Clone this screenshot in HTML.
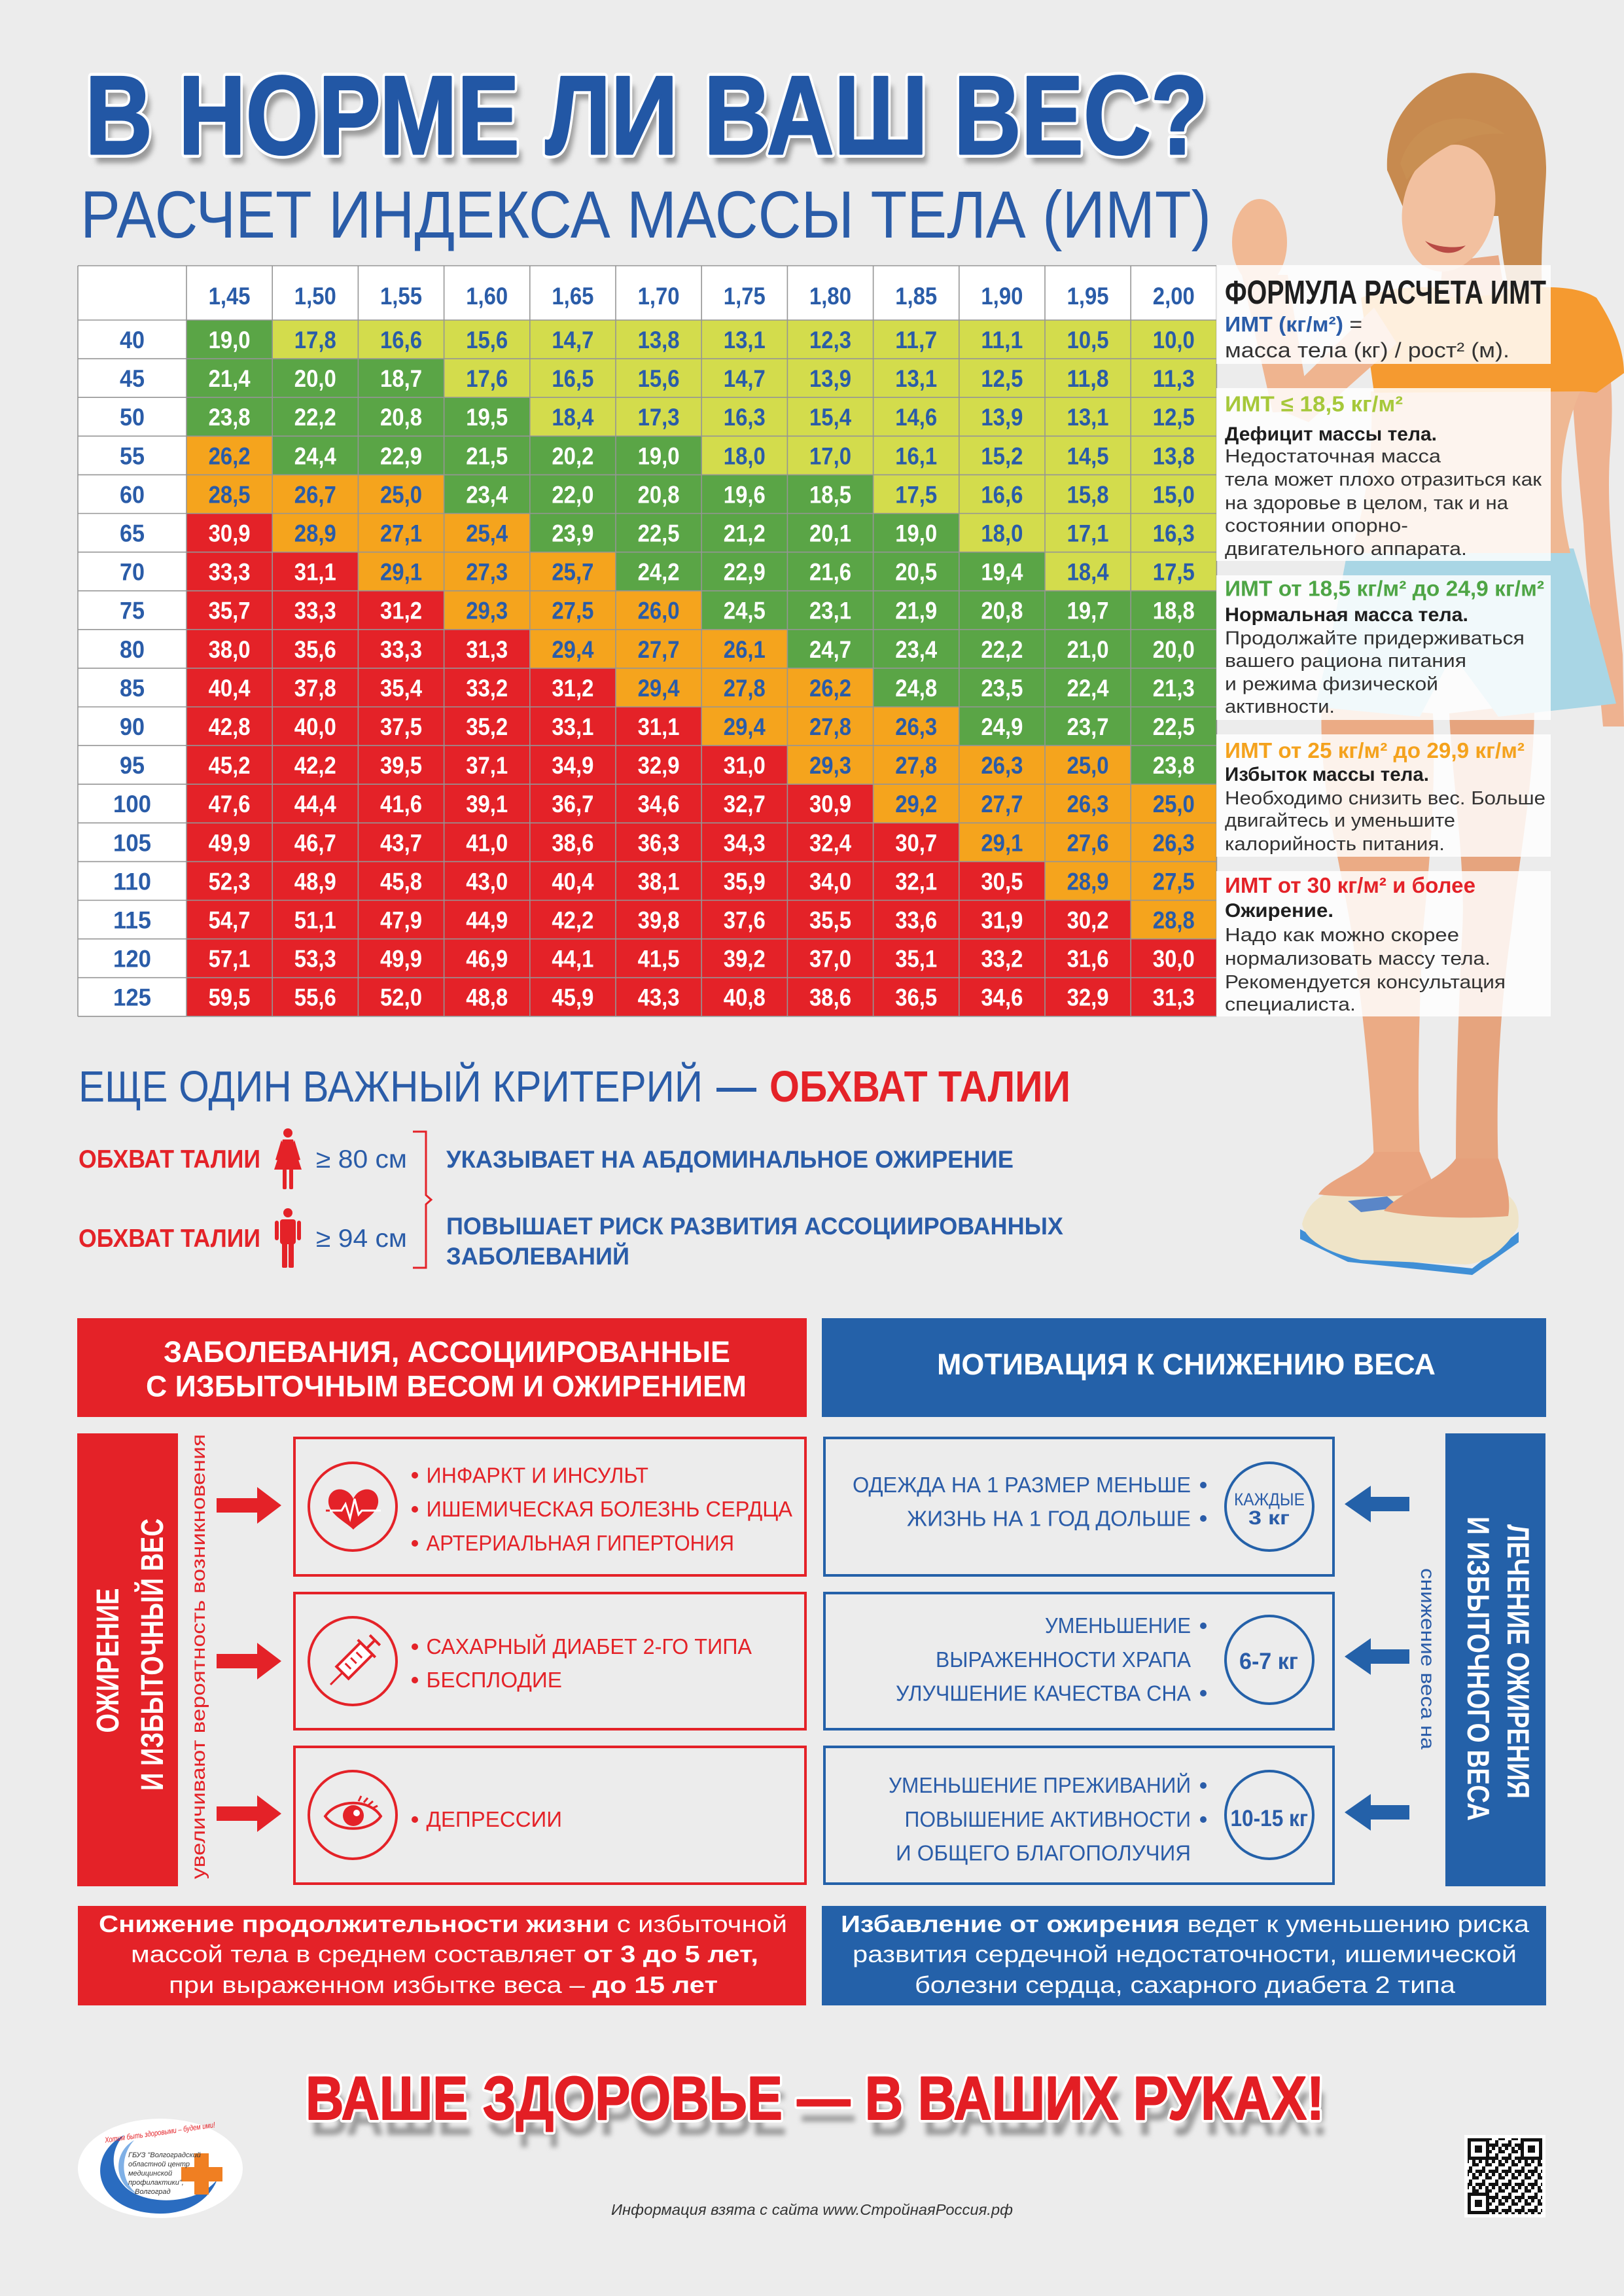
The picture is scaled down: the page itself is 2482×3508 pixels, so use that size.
<!DOCTYPE html>
<html lang="ru">
<head>
<meta charset="utf-8">
<title>В норме ли ваш вес?</title>
<style>
html,body{margin:0;padding:0;background:#ececec;}
svg{display:block;}
text{font-family:"Liberation Sans","DejaVu Sans",sans-serif;}
.G{fill:#5aa546}.Y{fill:#d3dc4c}.O{fill:#f5a41d}.R{fill:#e42228}
.t text{font-weight:bold;font-size:37px;text-anchor:middle;lengthAdjust:spacingAndGlyphs;}
.w{fill:#fff}.b{fill:#2a5ca8}
.pn{font-size:29px;fill:#333;}
.pb{font-size:30px;font-weight:bold;fill:#1e1e1e;}
.ph{font-size:33px;font-weight:bold;}
.rb{font-size:33px;fill:#e42228;}
.bb{font-size:33px;fill:#2a5ca8;}
</style>
</head>
<body>
<svg width="2482" height="3508" viewBox="0 0 2482 3508" xmlns="http://www.w3.org/2000/svg">
<defs>
<filter id="sh" x="-5%" y="-30%" width="110%" height="160%"><feGaussianBlur stdDeviation="4"/></filter>
<rect id="c" width="131.2" height="59.1"/>
<rect id="wc" width="166" height="59.1" fill="#fff"/>
<pattern id="qr" width="20" height="20" patternUnits="userSpaceOnUse">
<rect x="0" y="0" width="5" height="5" fill="#111"/><rect x="10" y="0" width="5" height="10" fill="#111"/><rect x="5" y="10" width="5" height="5" fill="#111"/><rect x="15" y="5" width="5" height="5" fill="#111"/><rect x="0" y="15" width="10" height="5" fill="#111"/><rect x="15" y="15" width="5" height="5" fill="#111"/>
</pattern>
</defs>

<rect width="2482" height="3508" fill="#ececec"/>

<!-- ===== WOMAN (approximate) ===== -->
<g>
<path d="M2415,470 C2460,500 2470,580 2460,700 C2455,800 2470,900 2480,1000 L2482,1110 L2450,1110 C2440,1000 2425,900 2420,800 C2410,700 2400,600 2400,500 Z" fill="#eeb290"/>
<path d="M2120,260 C2115,160 2200,105 2260,112 C2330,118 2370,190 2362,280 C2358,350 2352,420 2360,470 L2320,480 C2300,440 2295,380 2290,330 L2150,330 Z" fill="#c78a4f"/>
<path d="M2020,1075 L2190,1090 C2195,1200 2185,1320 2175,1420 C2170,1520 2165,1650 2170,1770 L2100,1775 C2095,1650 2080,1520 2065,1420 C2045,1300 2015,1200 2020,1075 Z" fill="#ebab85"/>
<path d="M2215,1090 L2345,1075 C2345,1200 2320,1320 2310,1420 C2295,1520 2285,1650 2290,1780 L2225,1780 C2225,1650 2230,1520 2235,1420 C2240,1320 2220,1200 2215,1090 Z" fill="#e6a47e"/>
<path d="M1987,1878 L2060,1918 L2250,1938 L2321,1882 L2321,1898 L2250,1948 L2060,1928 L1987,1893 Z" fill="#3f8fd6"/>
<path d="M1990,1870 C2000,1830 2030,1815 2080,1815 L2260,1815 C2310,1815 2325,1840 2320,1875 C2300,1910 2270,1930 2240,1932 L2080,1925 C2030,1915 1995,1895 1990,1870 Z" fill="#efe4c8"/>
<path d="M2060,1835 L2120,1828 L2140,1845 L2080,1852 Z" fill="#5a86c8"/>
<path d="M2100,1760 L2170,1760 L2195,1820 C2150,1830 2060,1830 2015,1825 C2030,1800 2080,1790 2100,1760 Z" fill="#e9a47f"/>
<path d="M2225,1770 L2290,1770 C2300,1800 2310,1830 2305,1858 C2260,1862 2170,1862 2115,1850 C2140,1820 2200,1805 2225,1770 Z" fill="#e6a07b"/>
<path d="M2060,838 L2405,838 C2430,920 2450,1000 2470,1075 L2290,1095 L2220,1000 L2170,1095 L2010,1080 C2030,1000 2045,920 2060,838 Z" fill="#a9d6e5"/>
<path d="M2095,598 L2415,598 C2380,680 2380,760 2400,845 L2065,845 C2090,760 2100,680 2095,598 Z" fill="#efb893"/>
<path d="M2080,455 C2150,430 2200,440 2250,445 C2330,440 2400,430 2440,455 C2470,500 2482,540 2482,570 L2440,600 L2420,598 L2100,600 Z" fill="#f59a30"/>
<path d="M2100,470 L2135,525 L2000,645 L1945,622 Z" fill="#efb48f"/>
<path d="M1945,630 L2002,628 L1968,420 L1898,420 Z" fill="#efb48f"/>
<ellipse cx="1925" cy="370" rx="42" ry="66" fill="#f1b994"/>
<path d="M2205,400 L2290,390 L2300,450 L2200,455 Z" fill="#e8a985"/>
<ellipse cx="2214" cy="318" rx="70" ry="98" transform="rotate(12 2214 318)" fill="#f2c09f"/>
<path d="M2178,368 C2195,390 2225,392 2240,375 C2225,380 2195,378 2178,368 Z" fill="#b84a45"/>
<path d="M2140,250 C2160,180 2240,160 2300,205 C2265,200 2200,215 2150,275 Z" fill="#c98f52"/>
</g>

<!-- ===== TITLE ===== -->
<g font-weight="bold" font-size="171">
<text x="138" y="249" textLength="1716" lengthAdjust="spacingAndGlyphs" fill="#9a9a9a" filter="url(#sh)">В НОРМЕ ЛИ ВАШ ВЕС?</text>
<text x="130" y="235" textLength="1716" lengthAdjust="spacingAndGlyphs" fill="#fff" stroke="#fff" stroke-width="12" stroke-linejoin="round">В НОРМЕ ЛИ ВАШ ВЕС?</text>
<text x="130" y="235" textLength="1716" lengthAdjust="spacingAndGlyphs" fill="#2257a5" stroke="#2257a5" stroke-width="3" stroke-linejoin="round">В НОРМЕ ЛИ ВАШ ВЕС?</text>
</g>
<text x="123" y="363" font-size="102" textLength="1728" lengthAdjust="spacingAndGlyphs" fill="#2a5ca8">РАСЧЕТ ИНДЕКСА МАССЫ ТЕЛА (ИМТ)</text>

<!-- ===== TABLE ===== -->
<rect x="119" y="406" width="1740" height="83" fill="#fff"/>
<g class="t">
<text x="350.6" y="465" class="b" textLength="64" lengthAdjust="spacingAndGlyphs">1,45</text>
<text x="481.8" y="465" class="b" textLength="64" lengthAdjust="spacingAndGlyphs">1,50</text>
<text x="613" y="465" class="b" textLength="64" lengthAdjust="spacingAndGlyphs">1,55</text>
<text x="744.2" y="465" class="b" textLength="64" lengthAdjust="spacingAndGlyphs">1,60</text>
<text x="875.4" y="465" class="b" textLength="64" lengthAdjust="spacingAndGlyphs">1,65</text>
<text x="1006.6" y="465" class="b" textLength="64" lengthAdjust="spacingAndGlyphs">1,70</text>
<text x="1137.8" y="465" class="b" textLength="64" lengthAdjust="spacingAndGlyphs">1,75</text>
<text x="1269" y="465" class="b" textLength="64" lengthAdjust="spacingAndGlyphs">1,80</text>
<text x="1400.2" y="465" class="b" textLength="64" lengthAdjust="spacingAndGlyphs">1,85</text>
<text x="1531.4" y="465" class="b" textLength="64" lengthAdjust="spacingAndGlyphs">1,90</text>
<text x="1662.6" y="465" class="b" textLength="64" lengthAdjust="spacingAndGlyphs">1,95</text>
<text x="1793.8" y="465" class="b" textLength="64" lengthAdjust="spacingAndGlyphs">2,00</text>

<g transform="translate(0,489)">
<use href="#wc" x="119"/><text x="202" y="43" class="b" textLength="38" lengthAdjust="spacingAndGlyphs">40</text>
<use href="#c" x="285" class="G"/><use href="#c" x="416.2" class="Y"/><use href="#c" x="547.4" class="Y"/><use href="#c" x="678.6" class="Y"/><use href="#c" x="809.8" class="Y"/><use href="#c" x="941" class="Y"/><use href="#c" x="1072.2" class="Y"/><use href="#c" x="1203.4" class="Y"/><use href="#c" x="1334.6" class="Y"/><use href="#c" x="1465.8" class="Y"/><use href="#c" x="1597" class="Y"/><use href="#c" x="1728.2" class="Y"/>
<text x="350.6" y="43" class="w" textLength="64" lengthAdjust="spacingAndGlyphs">19,0</text><text x="481.8" y="43" class="b" textLength="64" lengthAdjust="spacingAndGlyphs">17,8</text><text x="613" y="43" class="b" textLength="64" lengthAdjust="spacingAndGlyphs">16,6</text><text x="744.2" y="43" class="b" textLength="64" lengthAdjust="spacingAndGlyphs">15,6</text><text x="875.4" y="43" class="b" textLength="64" lengthAdjust="spacingAndGlyphs">14,7</text><text x="1006.6" y="43" class="b" textLength="64" lengthAdjust="spacingAndGlyphs">13,8</text><text x="1137.8" y="43" class="b" textLength="64" lengthAdjust="spacingAndGlyphs">13,1</text><text x="1269" y="43" class="b" textLength="64" lengthAdjust="spacingAndGlyphs">12,3</text><text x="1400.2" y="43" class="b" textLength="64" lengthAdjust="spacingAndGlyphs">11,7</text><text x="1531.4" y="43" class="b" textLength="64" lengthAdjust="spacingAndGlyphs">11,1</text><text x="1662.6" y="43" class="b" textLength="64" lengthAdjust="spacingAndGlyphs">10,5</text><text x="1793.8" y="43" class="b" textLength="64" lengthAdjust="spacingAndGlyphs">10,0</text>
</g>

<g transform="translate(0,548.1)">
<use href="#wc" x="119"/><text x="202" y="43" class="b" textLength="38" lengthAdjust="spacingAndGlyphs">45</text>
<use href="#c" x="285" class="G"/><use href="#c" x="416.2" class="G"/><use href="#c" x="547.4" class="G"/><use href="#c" x="678.6" class="Y"/><use href="#c" x="809.8" class="Y"/><use href="#c" x="941" class="Y"/><use href="#c" x="1072.2" class="Y"/><use href="#c" x="1203.4" class="Y"/><use href="#c" x="1334.6" class="Y"/><use href="#c" x="1465.8" class="Y"/><use href="#c" x="1597" class="Y"/><use href="#c" x="1728.2" class="Y"/>
<text x="350.6" y="43" class="w" textLength="64" lengthAdjust="spacingAndGlyphs">21,4</text><text x="481.8" y="43" class="w" textLength="64" lengthAdjust="spacingAndGlyphs">20,0</text><text x="613" y="43" class="w" textLength="64" lengthAdjust="spacingAndGlyphs">18,7</text><text x="744.2" y="43" class="b" textLength="64" lengthAdjust="spacingAndGlyphs">17,6</text><text x="875.4" y="43" class="b" textLength="64" lengthAdjust="spacingAndGlyphs">16,5</text><text x="1006.6" y="43" class="b" textLength="64" lengthAdjust="spacingAndGlyphs">15,6</text><text x="1137.8" y="43" class="b" textLength="64" lengthAdjust="spacingAndGlyphs">14,7</text><text x="1269" y="43" class="b" textLength="64" lengthAdjust="spacingAndGlyphs">13,9</text><text x="1400.2" y="43" class="b" textLength="64" lengthAdjust="spacingAndGlyphs">13,1</text><text x="1531.4" y="43" class="b" textLength="64" lengthAdjust="spacingAndGlyphs">12,5</text><text x="1662.6" y="43" class="b" textLength="64" lengthAdjust="spacingAndGlyphs">11,8</text><text x="1793.8" y="43" class="b" textLength="64" lengthAdjust="spacingAndGlyphs">11,3</text>
</g>

<g transform="translate(0,607.2)">
<use href="#wc" x="119"/><text x="202" y="43" class="b" textLength="38" lengthAdjust="spacingAndGlyphs">50</text>
<use href="#c" x="285" class="G"/><use href="#c" x="416.2" class="G"/><use href="#c" x="547.4" class="G"/><use href="#c" x="678.6" class="G"/><use href="#c" x="809.8" class="Y"/><use href="#c" x="941" class="Y"/><use href="#c" x="1072.2" class="Y"/><use href="#c" x="1203.4" class="Y"/><use href="#c" x="1334.6" class="Y"/><use href="#c" x="1465.8" class="Y"/><use href="#c" x="1597" class="Y"/><use href="#c" x="1728.2" class="Y"/>
<text x="350.6" y="43" class="w" textLength="64" lengthAdjust="spacingAndGlyphs">23,8</text><text x="481.8" y="43" class="w" textLength="64" lengthAdjust="spacingAndGlyphs">22,2</text><text x="613" y="43" class="w" textLength="64" lengthAdjust="spacingAndGlyphs">20,8</text><text x="744.2" y="43" class="w" textLength="64" lengthAdjust="spacingAndGlyphs">19,5</text><text x="875.4" y="43" class="b" textLength="64" lengthAdjust="spacingAndGlyphs">18,4</text><text x="1006.6" y="43" class="b" textLength="64" lengthAdjust="spacingAndGlyphs">17,3</text><text x="1137.8" y="43" class="b" textLength="64" lengthAdjust="spacingAndGlyphs">16,3</text><text x="1269" y="43" class="b" textLength="64" lengthAdjust="spacingAndGlyphs">15,4</text><text x="1400.2" y="43" class="b" textLength="64" lengthAdjust="spacingAndGlyphs">14,6</text><text x="1531.4" y="43" class="b" textLength="64" lengthAdjust="spacingAndGlyphs">13,9</text><text x="1662.6" y="43" class="b" textLength="64" lengthAdjust="spacingAndGlyphs">13,1</text><text x="1793.8" y="43" class="b" textLength="64" lengthAdjust="spacingAndGlyphs">12,5</text>
</g>

<g transform="translate(0,666.3)">
<use href="#wc" x="119"/><text x="202" y="43" class="b" textLength="38" lengthAdjust="spacingAndGlyphs">55</text>
<use href="#c" x="285" class="O"/><use href="#c" x="416.2" class="G"/><use href="#c" x="547.4" class="G"/><use href="#c" x="678.6" class="G"/><use href="#c" x="809.8" class="G"/><use href="#c" x="941" class="G"/><use href="#c" x="1072.2" class="Y"/><use href="#c" x="1203.4" class="Y"/><use href="#c" x="1334.6" class="Y"/><use href="#c" x="1465.8" class="Y"/><use href="#c" x="1597" class="Y"/><use href="#c" x="1728.2" class="Y"/>
<text x="350.6" y="43" class="b" textLength="64" lengthAdjust="spacingAndGlyphs">26,2</text><text x="481.8" y="43" class="w" textLength="64" lengthAdjust="spacingAndGlyphs">24,4</text><text x="613" y="43" class="w" textLength="64" lengthAdjust="spacingAndGlyphs">22,9</text><text x="744.2" y="43" class="w" textLength="64" lengthAdjust="spacingAndGlyphs">21,5</text><text x="875.4" y="43" class="w" textLength="64" lengthAdjust="spacingAndGlyphs">20,2</text><text x="1006.6" y="43" class="w" textLength="64" lengthAdjust="spacingAndGlyphs">19,0</text><text x="1137.8" y="43" class="b" textLength="64" lengthAdjust="spacingAndGlyphs">18,0</text><text x="1269" y="43" class="b" textLength="64" lengthAdjust="spacingAndGlyphs">17,0</text><text x="1400.2" y="43" class="b" textLength="64" lengthAdjust="spacingAndGlyphs">16,1</text><text x="1531.4" y="43" class="b" textLength="64" lengthAdjust="spacingAndGlyphs">15,2</text><text x="1662.6" y="43" class="b" textLength="64" lengthAdjust="spacingAndGlyphs">14,5</text><text x="1793.8" y="43" class="b" textLength="64" lengthAdjust="spacingAndGlyphs">13,8</text>
</g>

<g transform="translate(0,725.4)">
<use href="#wc" x="119"/><text x="202" y="43" class="b" textLength="38" lengthAdjust="spacingAndGlyphs">60</text>
<use href="#c" x="285" class="O"/><use href="#c" x="416.2" class="O"/><use href="#c" x="547.4" class="O"/><use href="#c" x="678.6" class="G"/><use href="#c" x="809.8" class="G"/><use href="#c" x="941" class="G"/><use href="#c" x="1072.2" class="G"/><use href="#c" x="1203.4" class="G"/><use href="#c" x="1334.6" class="Y"/><use href="#c" x="1465.8" class="Y"/><use href="#c" x="1597" class="Y"/><use href="#c" x="1728.2" class="Y"/>
<text x="350.6" y="43" class="b" textLength="64" lengthAdjust="spacingAndGlyphs">28,5</text><text x="481.8" y="43" class="b" textLength="64" lengthAdjust="spacingAndGlyphs">26,7</text><text x="613" y="43" class="b" textLength="64" lengthAdjust="spacingAndGlyphs">25,0</text><text x="744.2" y="43" class="w" textLength="64" lengthAdjust="spacingAndGlyphs">23,4</text><text x="875.4" y="43" class="w" textLength="64" lengthAdjust="spacingAndGlyphs">22,0</text><text x="1006.6" y="43" class="w" textLength="64" lengthAdjust="spacingAndGlyphs">20,8</text><text x="1137.8" y="43" class="w" textLength="64" lengthAdjust="spacingAndGlyphs">19,6</text><text x="1269" y="43" class="w" textLength="64" lengthAdjust="spacingAndGlyphs">18,5</text><text x="1400.2" y="43" class="b" textLength="64" lengthAdjust="spacingAndGlyphs">17,5</text><text x="1531.4" y="43" class="b" textLength="64" lengthAdjust="spacingAndGlyphs">16,6</text><text x="1662.6" y="43" class="b" textLength="64" lengthAdjust="spacingAndGlyphs">15,8</text><text x="1793.8" y="43" class="b" textLength="64" lengthAdjust="spacingAndGlyphs">15,0</text>
</g>

<g transform="translate(0,784.5)">
<use href="#wc" x="119"/><text x="202" y="43" class="b" textLength="38" lengthAdjust="spacingAndGlyphs">65</text>
<use href="#c" x="285" class="R"/><use href="#c" x="416.2" class="O"/><use href="#c" x="547.4" class="O"/><use href="#c" x="678.6" class="O"/><use href="#c" x="809.8" class="G"/><use href="#c" x="941" class="G"/><use href="#c" x="1072.2" class="G"/><use href="#c" x="1203.4" class="G"/><use href="#c" x="1334.6" class="G"/><use href="#c" x="1465.8" class="Y"/><use href="#c" x="1597" class="Y"/><use href="#c" x="1728.2" class="Y"/>
<text x="350.6" y="43" class="w" textLength="64" lengthAdjust="spacingAndGlyphs">30,9</text><text x="481.8" y="43" class="b" textLength="64" lengthAdjust="spacingAndGlyphs">28,9</text><text x="613" y="43" class="b" textLength="64" lengthAdjust="spacingAndGlyphs">27,1</text><text x="744.2" y="43" class="b" textLength="64" lengthAdjust="spacingAndGlyphs">25,4</text><text x="875.4" y="43" class="w" textLength="64" lengthAdjust="spacingAndGlyphs">23,9</text><text x="1006.6" y="43" class="w" textLength="64" lengthAdjust="spacingAndGlyphs">22,5</text><text x="1137.8" y="43" class="w" textLength="64" lengthAdjust="spacingAndGlyphs">21,2</text><text x="1269" y="43" class="w" textLength="64" lengthAdjust="spacingAndGlyphs">20,1</text><text x="1400.2" y="43" class="w" textLength="64" lengthAdjust="spacingAndGlyphs">19,0</text><text x="1531.4" y="43" class="b" textLength="64" lengthAdjust="spacingAndGlyphs">18,0</text><text x="1662.6" y="43" class="b" textLength="64" lengthAdjust="spacingAndGlyphs">17,1</text><text x="1793.8" y="43" class="b" textLength="64" lengthAdjust="spacingAndGlyphs">16,3</text>
</g>

<g transform="translate(0,843.6)">
<use href="#wc" x="119"/><text x="202" y="43" class="b" textLength="38" lengthAdjust="spacingAndGlyphs">70</text>
<use href="#c" x="285" class="R"/><use href="#c" x="416.2" class="R"/><use href="#c" x="547.4" class="O"/><use href="#c" x="678.6" class="O"/><use href="#c" x="809.8" class="O"/><use href="#c" x="941" class="G"/><use href="#c" x="1072.2" class="G"/><use href="#c" x="1203.4" class="G"/><use href="#c" x="1334.6" class="G"/><use href="#c" x="1465.8" class="G"/><use href="#c" x="1597" class="Y"/><use href="#c" x="1728.2" class="Y"/>
<text x="350.6" y="43" class="w" textLength="64" lengthAdjust="spacingAndGlyphs">33,3</text><text x="481.8" y="43" class="w" textLength="64" lengthAdjust="spacingAndGlyphs">31,1</text><text x="613" y="43" class="b" textLength="64" lengthAdjust="spacingAndGlyphs">29,1</text><text x="744.2" y="43" class="b" textLength="64" lengthAdjust="spacingAndGlyphs">27,3</text><text x="875.4" y="43" class="b" textLength="64" lengthAdjust="spacingAndGlyphs">25,7</text><text x="1006.6" y="43" class="w" textLength="64" lengthAdjust="spacingAndGlyphs">24,2</text><text x="1137.8" y="43" class="w" textLength="64" lengthAdjust="spacingAndGlyphs">22,9</text><text x="1269" y="43" class="w" textLength="64" lengthAdjust="spacingAndGlyphs">21,6</text><text x="1400.2" y="43" class="w" textLength="64" lengthAdjust="spacingAndGlyphs">20,5</text><text x="1531.4" y="43" class="w" textLength="64" lengthAdjust="spacingAndGlyphs">19,4</text><text x="1662.6" y="43" class="b" textLength="64" lengthAdjust="spacingAndGlyphs">18,4</text><text x="1793.8" y="43" class="b" textLength="64" lengthAdjust="spacingAndGlyphs">17,5</text>
</g>

<g transform="translate(0,902.7)">
<use href="#wc" x="119"/><text x="202" y="43" class="b" textLength="38" lengthAdjust="spacingAndGlyphs">75</text>
<use href="#c" x="285" class="R"/><use href="#c" x="416.2" class="R"/><use href="#c" x="547.4" class="R"/><use href="#c" x="678.6" class="O"/><use href="#c" x="809.8" class="O"/><use href="#c" x="941" class="O"/><use href="#c" x="1072.2" class="G"/><use href="#c" x="1203.4" class="G"/><use href="#c" x="1334.6" class="G"/><use href="#c" x="1465.8" class="G"/><use href="#c" x="1597" class="G"/><use href="#c" x="1728.2" class="G"/>
<text x="350.6" y="43" class="w" textLength="64" lengthAdjust="spacingAndGlyphs">35,7</text><text x="481.8" y="43" class="w" textLength="64" lengthAdjust="spacingAndGlyphs">33,3</text><text x="613" y="43" class="w" textLength="64" lengthAdjust="spacingAndGlyphs">31,2</text><text x="744.2" y="43" class="b" textLength="64" lengthAdjust="spacingAndGlyphs">29,3</text><text x="875.4" y="43" class="b" textLength="64" lengthAdjust="spacingAndGlyphs">27,5</text><text x="1006.6" y="43" class="b" textLength="64" lengthAdjust="spacingAndGlyphs">26,0</text><text x="1137.8" y="43" class="w" textLength="64" lengthAdjust="spacingAndGlyphs">24,5</text><text x="1269" y="43" class="w" textLength="64" lengthAdjust="spacingAndGlyphs">23,1</text><text x="1400.2" y="43" class="w" textLength="64" lengthAdjust="spacingAndGlyphs">21,9</text><text x="1531.4" y="43" class="w" textLength="64" lengthAdjust="spacingAndGlyphs">20,8</text><text x="1662.6" y="43" class="w" textLength="64" lengthAdjust="spacingAndGlyphs">19,7</text><text x="1793.8" y="43" class="w" textLength="64" lengthAdjust="spacingAndGlyphs">18,8</text>
</g>

<g transform="translate(0,961.8)">
<use href="#wc" x="119"/><text x="202" y="43" class="b" textLength="38" lengthAdjust="spacingAndGlyphs">80</text>
<use href="#c" x="285" class="R"/><use href="#c" x="416.2" class="R"/><use href="#c" x="547.4" class="R"/><use href="#c" x="678.6" class="R"/><use href="#c" x="809.8" class="O"/><use href="#c" x="941" class="O"/><use href="#c" x="1072.2" class="O"/><use href="#c" x="1203.4" class="G"/><use href="#c" x="1334.6" class="G"/><use href="#c" x="1465.8" class="G"/><use href="#c" x="1597" class="G"/><use href="#c" x="1728.2" class="G"/>
<text x="350.6" y="43" class="w" textLength="64" lengthAdjust="spacingAndGlyphs">38,0</text><text x="481.8" y="43" class="w" textLength="64" lengthAdjust="spacingAndGlyphs">35,6</text><text x="613" y="43" class="w" textLength="64" lengthAdjust="spacingAndGlyphs">33,3</text><text x="744.2" y="43" class="w" textLength="64" lengthAdjust="spacingAndGlyphs">31,3</text><text x="875.4" y="43" class="b" textLength="64" lengthAdjust="spacingAndGlyphs">29,4</text><text x="1006.6" y="43" class="b" textLength="64" lengthAdjust="spacingAndGlyphs">27,7</text><text x="1137.8" y="43" class="b" textLength="64" lengthAdjust="spacingAndGlyphs">26,1</text><text x="1269" y="43" class="w" textLength="64" lengthAdjust="spacingAndGlyphs">24,7</text><text x="1400.2" y="43" class="w" textLength="64" lengthAdjust="spacingAndGlyphs">23,4</text><text x="1531.4" y="43" class="w" textLength="64" lengthAdjust="spacingAndGlyphs">22,2</text><text x="1662.6" y="43" class="w" textLength="64" lengthAdjust="spacingAndGlyphs">21,0</text><text x="1793.8" y="43" class="w" textLength="64" lengthAdjust="spacingAndGlyphs">20,0</text>
</g>

<g transform="translate(0,1020.9)">
<use href="#wc" x="119"/><text x="202" y="43" class="b" textLength="38" lengthAdjust="spacingAndGlyphs">85</text>
<use href="#c" x="285" class="R"/><use href="#c" x="416.2" class="R"/><use href="#c" x="547.4" class="R"/><use href="#c" x="678.6" class="R"/><use href="#c" x="809.8" class="R"/><use href="#c" x="941" class="O"/><use href="#c" x="1072.2" class="O"/><use href="#c" x="1203.4" class="O"/><use href="#c" x="1334.6" class="G"/><use href="#c" x="1465.8" class="G"/><use href="#c" x="1597" class="G"/><use href="#c" x="1728.2" class="G"/>
<text x="350.6" y="43" class="w" textLength="64" lengthAdjust="spacingAndGlyphs">40,4</text><text x="481.8" y="43" class="w" textLength="64" lengthAdjust="spacingAndGlyphs">37,8</text><text x="613" y="43" class="w" textLength="64" lengthAdjust="spacingAndGlyphs">35,4</text><text x="744.2" y="43" class="w" textLength="64" lengthAdjust="spacingAndGlyphs">33,2</text><text x="875.4" y="43" class="w" textLength="64" lengthAdjust="spacingAndGlyphs">31,2</text><text x="1006.6" y="43" class="b" textLength="64" lengthAdjust="spacingAndGlyphs">29,4</text><text x="1137.8" y="43" class="b" textLength="64" lengthAdjust="spacingAndGlyphs">27,8</text><text x="1269" y="43" class="b" textLength="64" lengthAdjust="spacingAndGlyphs">26,2</text><text x="1400.2" y="43" class="w" textLength="64" lengthAdjust="spacingAndGlyphs">24,8</text><text x="1531.4" y="43" class="w" textLength="64" lengthAdjust="spacingAndGlyphs">23,5</text><text x="1662.6" y="43" class="w" textLength="64" lengthAdjust="spacingAndGlyphs">22,4</text><text x="1793.8" y="43" class="w" textLength="64" lengthAdjust="spacingAndGlyphs">21,3</text>
</g>

<g transform="translate(0,1080)">
<use href="#wc" x="119"/><text x="202" y="43" class="b" textLength="38" lengthAdjust="spacingAndGlyphs">90</text>
<use href="#c" x="285" class="R"/><use href="#c" x="416.2" class="R"/><use href="#c" x="547.4" class="R"/><use href="#c" x="678.6" class="R"/><use href="#c" x="809.8" class="R"/><use href="#c" x="941" class="R"/><use href="#c" x="1072.2" class="O"/><use href="#c" x="1203.4" class="O"/><use href="#c" x="1334.6" class="O"/><use href="#c" x="1465.8" class="G"/><use href="#c" x="1597" class="G"/><use href="#c" x="1728.2" class="G"/>
<text x="350.6" y="43" class="w" textLength="64" lengthAdjust="spacingAndGlyphs">42,8</text><text x="481.8" y="43" class="w" textLength="64" lengthAdjust="spacingAndGlyphs">40,0</text><text x="613" y="43" class="w" textLength="64" lengthAdjust="spacingAndGlyphs">37,5</text><text x="744.2" y="43" class="w" textLength="64" lengthAdjust="spacingAndGlyphs">35,2</text><text x="875.4" y="43" class="w" textLength="64" lengthAdjust="spacingAndGlyphs">33,1</text><text x="1006.6" y="43" class="w" textLength="64" lengthAdjust="spacingAndGlyphs">31,1</text><text x="1137.8" y="43" class="b" textLength="64" lengthAdjust="spacingAndGlyphs">29,4</text><text x="1269" y="43" class="b" textLength="64" lengthAdjust="spacingAndGlyphs">27,8</text><text x="1400.2" y="43" class="b" textLength="64" lengthAdjust="spacingAndGlyphs">26,3</text><text x="1531.4" y="43" class="w" textLength="64" lengthAdjust="spacingAndGlyphs">24,9</text><text x="1662.6" y="43" class="w" textLength="64" lengthAdjust="spacingAndGlyphs">23,7</text><text x="1793.8" y="43" class="w" textLength="64" lengthAdjust="spacingAndGlyphs">22,5</text>
</g>

<g transform="translate(0,1139.1)">
<use href="#wc" x="119"/><text x="202" y="43" class="b" textLength="38" lengthAdjust="spacingAndGlyphs">95</text>
<use href="#c" x="285" class="R"/><use href="#c" x="416.2" class="R"/><use href="#c" x="547.4" class="R"/><use href="#c" x="678.6" class="R"/><use href="#c" x="809.8" class="R"/><use href="#c" x="941" class="R"/><use href="#c" x="1072.2" class="R"/><use href="#c" x="1203.4" class="O"/><use href="#c" x="1334.6" class="O"/><use href="#c" x="1465.8" class="O"/><use href="#c" x="1597" class="O"/><use href="#c" x="1728.2" class="G"/>
<text x="350.6" y="43" class="w" textLength="64" lengthAdjust="spacingAndGlyphs">45,2</text><text x="481.8" y="43" class="w" textLength="64" lengthAdjust="spacingAndGlyphs">42,2</text><text x="613" y="43" class="w" textLength="64" lengthAdjust="spacingAndGlyphs">39,5</text><text x="744.2" y="43" class="w" textLength="64" lengthAdjust="spacingAndGlyphs">37,1</text><text x="875.4" y="43" class="w" textLength="64" lengthAdjust="spacingAndGlyphs">34,9</text><text x="1006.6" y="43" class="w" textLength="64" lengthAdjust="spacingAndGlyphs">32,9</text><text x="1137.8" y="43" class="w" textLength="64" lengthAdjust="spacingAndGlyphs">31,0</text><text x="1269" y="43" class="b" textLength="64" lengthAdjust="spacingAndGlyphs">29,3</text><text x="1400.2" y="43" class="b" textLength="64" lengthAdjust="spacingAndGlyphs">27,8</text><text x="1531.4" y="43" class="b" textLength="64" lengthAdjust="spacingAndGlyphs">26,3</text><text x="1662.6" y="43" class="b" textLength="64" lengthAdjust="spacingAndGlyphs">25,0</text><text x="1793.8" y="43" class="w" textLength="64" lengthAdjust="spacingAndGlyphs">23,8</text>
</g>

<g transform="translate(0,1198.2)">
<use href="#wc" x="119"/><text x="202" y="43" class="b" textLength="58" lengthAdjust="spacingAndGlyphs">100</text>
<use href="#c" x="285" class="R"/><use href="#c" x="416.2" class="R"/><use href="#c" x="547.4" class="R"/><use href="#c" x="678.6" class="R"/><use href="#c" x="809.8" class="R"/><use href="#c" x="941" class="R"/><use href="#c" x="1072.2" class="R"/><use href="#c" x="1203.4" class="R"/><use href="#c" x="1334.6" class="O"/><use href="#c" x="1465.8" class="O"/><use href="#c" x="1597" class="O"/><use href="#c" x="1728.2" class="O"/>
<text x="350.6" y="43" class="w" textLength="64" lengthAdjust="spacingAndGlyphs">47,6</text><text x="481.8" y="43" class="w" textLength="64" lengthAdjust="spacingAndGlyphs">44,4</text><text x="613" y="43" class="w" textLength="64" lengthAdjust="spacingAndGlyphs">41,6</text><text x="744.2" y="43" class="w" textLength="64" lengthAdjust="spacingAndGlyphs">39,1</text><text x="875.4" y="43" class="w" textLength="64" lengthAdjust="spacingAndGlyphs">36,7</text><text x="1006.6" y="43" class="w" textLength="64" lengthAdjust="spacingAndGlyphs">34,6</text><text x="1137.8" y="43" class="w" textLength="64" lengthAdjust="spacingAndGlyphs">32,7</text><text x="1269" y="43" class="w" textLength="64" lengthAdjust="spacingAndGlyphs">30,9</text><text x="1400.2" y="43" class="b" textLength="64" lengthAdjust="spacingAndGlyphs">29,2</text><text x="1531.4" y="43" class="b" textLength="64" lengthAdjust="spacingAndGlyphs">27,7</text><text x="1662.6" y="43" class="b" textLength="64" lengthAdjust="spacingAndGlyphs">26,3</text><text x="1793.8" y="43" class="b" textLength="64" lengthAdjust="spacingAndGlyphs">25,0</text>
</g>

<g transform="translate(0,1257.3)">
<use href="#wc" x="119"/><text x="202" y="43" class="b" textLength="58" lengthAdjust="spacingAndGlyphs">105</text>
<use href="#c" x="285" class="R"/><use href="#c" x="416.2" class="R"/><use href="#c" x="547.4" class="R"/><use href="#c" x="678.6" class="R"/><use href="#c" x="809.8" class="R"/><use href="#c" x="941" class="R"/><use href="#c" x="1072.2" class="R"/><use href="#c" x="1203.4" class="R"/><use href="#c" x="1334.6" class="R"/><use href="#c" x="1465.8" class="O"/><use href="#c" x="1597" class="O"/><use href="#c" x="1728.2" class="O"/>
<text x="350.6" y="43" class="w" textLength="64" lengthAdjust="spacingAndGlyphs">49,9</text><text x="481.8" y="43" class="w" textLength="64" lengthAdjust="spacingAndGlyphs">46,7</text><text x="613" y="43" class="w" textLength="64" lengthAdjust="spacingAndGlyphs">43,7</text><text x="744.2" y="43" class="w" textLength="64" lengthAdjust="spacingAndGlyphs">41,0</text><text x="875.4" y="43" class="w" textLength="64" lengthAdjust="spacingAndGlyphs">38,6</text><text x="1006.6" y="43" class="w" textLength="64" lengthAdjust="spacingAndGlyphs">36,3</text><text x="1137.8" y="43" class="w" textLength="64" lengthAdjust="spacingAndGlyphs">34,3</text><text x="1269" y="43" class="w" textLength="64" lengthAdjust="spacingAndGlyphs">32,4</text><text x="1400.2" y="43" class="w" textLength="64" lengthAdjust="spacingAndGlyphs">30,7</text><text x="1531.4" y="43" class="b" textLength="64" lengthAdjust="spacingAndGlyphs">29,1</text><text x="1662.6" y="43" class="b" textLength="64" lengthAdjust="spacingAndGlyphs">27,6</text><text x="1793.8" y="43" class="b" textLength="64" lengthAdjust="spacingAndGlyphs">26,3</text>
</g>

<g transform="translate(0,1316.4)">
<use href="#wc" x="119"/><text x="202" y="43" class="b" textLength="58" lengthAdjust="spacingAndGlyphs">110</text>
<use href="#c" x="285" class="R"/><use href="#c" x="416.2" class="R"/><use href="#c" x="547.4" class="R"/><use href="#c" x="678.6" class="R"/><use href="#c" x="809.8" class="R"/><use href="#c" x="941" class="R"/><use href="#c" x="1072.2" class="R"/><use href="#c" x="1203.4" class="R"/><use href="#c" x="1334.6" class="R"/><use href="#c" x="1465.8" class="R"/><use href="#c" x="1597" class="O"/><use href="#c" x="1728.2" class="O"/>
<text x="350.6" y="43" class="w" textLength="64" lengthAdjust="spacingAndGlyphs">52,3</text><text x="481.8" y="43" class="w" textLength="64" lengthAdjust="spacingAndGlyphs">48,9</text><text x="613" y="43" class="w" textLength="64" lengthAdjust="spacingAndGlyphs">45,8</text><text x="744.2" y="43" class="w" textLength="64" lengthAdjust="spacingAndGlyphs">43,0</text><text x="875.4" y="43" class="w" textLength="64" lengthAdjust="spacingAndGlyphs">40,4</text><text x="1006.6" y="43" class="w" textLength="64" lengthAdjust="spacingAndGlyphs">38,1</text><text x="1137.8" y="43" class="w" textLength="64" lengthAdjust="spacingAndGlyphs">35,9</text><text x="1269" y="43" class="w" textLength="64" lengthAdjust="spacingAndGlyphs">34,0</text><text x="1400.2" y="43" class="w" textLength="64" lengthAdjust="spacingAndGlyphs">32,1</text><text x="1531.4" y="43" class="w" textLength="64" lengthAdjust="spacingAndGlyphs">30,5</text><text x="1662.6" y="43" class="b" textLength="64" lengthAdjust="spacingAndGlyphs">28,9</text><text x="1793.8" y="43" class="b" textLength="64" lengthAdjust="spacingAndGlyphs">27,5</text>
</g>

<g transform="translate(0,1375.5)">
<use href="#wc" x="119"/><text x="202" y="43" class="b" textLength="58" lengthAdjust="spacingAndGlyphs">115</text>
<use href="#c" x="285" class="R"/><use href="#c" x="416.2" class="R"/><use href="#c" x="547.4" class="R"/><use href="#c" x="678.6" class="R"/><use href="#c" x="809.8" class="R"/><use href="#c" x="941" class="R"/><use href="#c" x="1072.2" class="R"/><use href="#c" x="1203.4" class="R"/><use href="#c" x="1334.6" class="R"/><use href="#c" x="1465.8" class="R"/><use href="#c" x="1597" class="R"/><use href="#c" x="1728.2" class="O"/>
<text x="350.6" y="43" class="w" textLength="64" lengthAdjust="spacingAndGlyphs">54,7</text><text x="481.8" y="43" class="w" textLength="64" lengthAdjust="spacingAndGlyphs">51,1</text><text x="613" y="43" class="w" textLength="64" lengthAdjust="spacingAndGlyphs">47,9</text><text x="744.2" y="43" class="w" textLength="64" lengthAdjust="spacingAndGlyphs">44,9</text><text x="875.4" y="43" class="w" textLength="64" lengthAdjust="spacingAndGlyphs">42,2</text><text x="1006.6" y="43" class="w" textLength="64" lengthAdjust="spacingAndGlyphs">39,8</text><text x="1137.8" y="43" class="w" textLength="64" lengthAdjust="spacingAndGlyphs">37,6</text><text x="1269" y="43" class="w" textLength="64" lengthAdjust="spacingAndGlyphs">35,5</text><text x="1400.2" y="43" class="w" textLength="64" lengthAdjust="spacingAndGlyphs">33,6</text><text x="1531.4" y="43" class="w" textLength="64" lengthAdjust="spacingAndGlyphs">31,9</text><text x="1662.6" y="43" class="w" textLength="64" lengthAdjust="spacingAndGlyphs">30,2</text><text x="1793.8" y="43" class="b" textLength="64" lengthAdjust="spacingAndGlyphs">28,8</text>
</g>

<g transform="translate(0,1434.6)">
<use href="#wc" x="119"/><text x="202" y="43" class="b" textLength="58" lengthAdjust="spacingAndGlyphs">120</text>
<use href="#c" x="285" class="R"/><use href="#c" x="416.2" class="R"/><use href="#c" x="547.4" class="R"/><use href="#c" x="678.6" class="R"/><use href="#c" x="809.8" class="R"/><use href="#c" x="941" class="R"/><use href="#c" x="1072.2" class="R"/><use href="#c" x="1203.4" class="R"/><use href="#c" x="1334.6" class="R"/><use href="#c" x="1465.8" class="R"/><use href="#c" x="1597" class="R"/><use href="#c" x="1728.2" class="R"/>
<text x="350.6" y="43" class="w" textLength="64" lengthAdjust="spacingAndGlyphs">57,1</text><text x="481.8" y="43" class="w" textLength="64" lengthAdjust="spacingAndGlyphs">53,3</text><text x="613" y="43" class="w" textLength="64" lengthAdjust="spacingAndGlyphs">49,9</text><text x="744.2" y="43" class="w" textLength="64" lengthAdjust="spacingAndGlyphs">46,9</text><text x="875.4" y="43" class="w" textLength="64" lengthAdjust="spacingAndGlyphs">44,1</text><text x="1006.6" y="43" class="w" textLength="64" lengthAdjust="spacingAndGlyphs">41,5</text><text x="1137.8" y="43" class="w" textLength="64" lengthAdjust="spacingAndGlyphs">39,2</text><text x="1269" y="43" class="w" textLength="64" lengthAdjust="spacingAndGlyphs">37,0</text><text x="1400.2" y="43" class="w" textLength="64" lengthAdjust="spacingAndGlyphs">35,1</text><text x="1531.4" y="43" class="w" textLength="64" lengthAdjust="spacingAndGlyphs">33,2</text><text x="1662.6" y="43" class="w" textLength="64" lengthAdjust="spacingAndGlyphs">31,6</text><text x="1793.8" y="43" class="w" textLength="64" lengthAdjust="spacingAndGlyphs">30,0</text>
</g>

<g transform="translate(0,1493.7)">
<use href="#wc" x="119"/><text x="202" y="43" class="b" textLength="58" lengthAdjust="spacingAndGlyphs">125</text>
<use href="#c" x="285" class="R"/><use href="#c" x="416.2" class="R"/><use href="#c" x="547.4" class="R"/><use href="#c" x="678.6" class="R"/><use href="#c" x="809.8" class="R"/><use href="#c" x="941" class="R"/><use href="#c" x="1072.2" class="R"/><use href="#c" x="1203.4" class="R"/><use href="#c" x="1334.6" class="R"/><use href="#c" x="1465.8" class="R"/><use href="#c" x="1597" class="R"/><use href="#c" x="1728.2" class="R"/>
<text x="350.6" y="43" class="w" textLength="64" lengthAdjust="spacingAndGlyphs">59,5</text><text x="481.8" y="43" class="w" textLength="64" lengthAdjust="spacingAndGlyphs">55,6</text><text x="613" y="43" class="w" textLength="64" lengthAdjust="spacingAndGlyphs">52,0</text><text x="744.2" y="43" class="w" textLength="64" lengthAdjust="spacingAndGlyphs">48,8</text><text x="875.4" y="43" class="w" textLength="64" lengthAdjust="spacingAndGlyphs">45,9</text><text x="1006.6" y="43" class="w" textLength="64" lengthAdjust="spacingAndGlyphs">43,3</text><text x="1137.8" y="43" class="w" textLength="64" lengthAdjust="spacingAndGlyphs">40,8</text><text x="1269" y="43" class="w" textLength="64" lengthAdjust="spacingAndGlyphs">38,6</text><text x="1400.2" y="43" class="w" textLength="64" lengthAdjust="spacingAndGlyphs">36,5</text><text x="1531.4" y="43" class="w" textLength="64" lengthAdjust="spacingAndGlyphs">34,6</text><text x="1662.6" y="43" class="w" textLength="64" lengthAdjust="spacingAndGlyphs">32,9</text><text x="1793.8" y="43" class="w" textLength="64" lengthAdjust="spacingAndGlyphs">31,3</text>
</g>
</g>

<!-- grid -->
<path fill="none" stroke="#959595" stroke-width="1.6" d="M119 406V1553M285 406V1553M416.2 406V1553M547.4 406V1553M678.6 406V1553M809.8 406V1553M941 406V1553M1072.2 406V1553M1203.4 406V1553M1334.6 406V1553M1465.8 406V1553M1597 406V1553M1728.2 406V1553M1859.4 406V1553
M119 406H1859.4M119 489H1859.4M119 548.1H1859.4M119 607.2H1859.4M119 666.3H1859.4M119 725.4H1859.4M119 784.5H1859.4M119 843.6H1859.4M119 902.7H1859.4M119 961.8H1859.4M119 1020.9H1859.4M119 1080H1859.4M119 1139.1H1859.4M119 1198.2H1859.4M119 1257.3H1859.4M119 1316.4H1859.4M119 1375.5H1859.4M119 1434.6H1859.4M119 1493.7H1859.4M119 1552.8H1859.4"/>

<!-- ===== RIGHT PANEL ===== -->
<g fill="#fff" fill-opacity="0.84">
<rect x="1859" y="405" width="511" height="151"/>
<rect x="1859" y="593" width="511" height="264"/>
<rect x="1859" y="879" width="511" height="221"/>
<rect x="1859" y="1122" width="511" height="187"/>
<rect x="1859" y="1331" width="511" height="222"/>
</g>
<text x="1872" y="464" font-size="51" font-weight="bold" fill="#1e1e1e" textLength="491" lengthAdjust="spacingAndGlyphs">ФОРМУЛА РАСЧЕТА ИМТ</text>
<text x="1872" y="506.5" font-size="32" textLength="210" lengthAdjust="spacingAndGlyphs"><tspan font-weight="bold" fill="#2a5ca8">ИМТ (кг/м²)</tspan><tspan fill="#333"> =</tspan></text>
<text x="1872" y="546" font-size="32" fill="#333" textLength="435" lengthAdjust="spacingAndGlyphs">масса тела (кг) / рост² (м).</text>

<text x="1872" y="628.5" class="ph" fill="#a6c83a" textLength="272" lengthAdjust="spacingAndGlyphs">ИМТ ≤ 18,5 кг/м²</text>
<text x="1872" y="673" class="pb" textLength="324" lengthAdjust="spacingAndGlyphs">Дефицит массы тела.</text>
<text x="1872" y="706.5" class="pn" textLength="330" lengthAdjust="spacingAndGlyphs">Недостаточная масса</text>
<text x="1872" y="742" class="pn" textLength="484" lengthAdjust="spacingAndGlyphs">тела может плохо отразиться как</text>
<text x="1872" y="778" class="pn" textLength="433" lengthAdjust="spacingAndGlyphs">на здоровье в целом, так и на</text>
<text x="1872" y="812.5" class="pn" textLength="280" lengthAdjust="spacingAndGlyphs">состоянии опорно-</text>
<text x="1872" y="848" class="pn" textLength="370" lengthAdjust="spacingAndGlyphs">двигательного аппарата.</text>

<text x="1872" y="910.5" class="ph" fill="#4ea545" textLength="488" lengthAdjust="spacingAndGlyphs">ИМТ от 18,5 кг/м² до 24,9 кг/м²</text>
<text x="1872" y="949" class="pb" textLength="372" lengthAdjust="spacingAndGlyphs">Нормальная масса тела.</text>
<text x="1872" y="984.5" class="pn" textLength="458" lengthAdjust="spacingAndGlyphs">Продолжайте придерживаться</text>
<text x="1872" y="1019" class="pn" textLength="369" lengthAdjust="spacingAndGlyphs">вашего рациона питания</text>
<text x="1872" y="1054.5" class="pn" textLength="326" lengthAdjust="spacingAndGlyphs">и режима физической</text>
<text x="1872" y="1089" class="pn" textLength="168" lengthAdjust="spacingAndGlyphs">активности.</text>

<text x="1872" y="1158" class="ph" fill="#f4a21d" textLength="458" lengthAdjust="spacingAndGlyphs">ИМТ от 25 кг/м² до 29,9 кг/м²</text>
<text x="1872" y="1193" class="pb" textLength="312" lengthAdjust="spacingAndGlyphs">Избыток массы тела.</text>
<text x="1872" y="1229" class="pn" textLength="490" lengthAdjust="spacingAndGlyphs">Необходимо снизить вес. Больше</text>
<text x="1872" y="1263" class="pn" textLength="352" lengthAdjust="spacingAndGlyphs">двигайтесь и уменьшите</text>
<text x="1872" y="1299" class="pn" textLength="336" lengthAdjust="spacingAndGlyphs">калорийность питания.</text>

<text x="1872" y="1364" class="ph" fill="#e42228" textLength="383" lengthAdjust="spacingAndGlyphs">ИМТ от 30 кг/м² и более</text>
<text x="1872" y="1401" class="pb" textLength="166" lengthAdjust="spacingAndGlyphs">Ожирение.</text>
<text x="1872" y="1438" class="pn" textLength="358" lengthAdjust="spacingAndGlyphs">Надо как можно скорее</text>
<text x="1872" y="1474" class="pn" textLength="406" lengthAdjust="spacingAndGlyphs">нормализовать массу тела.</text>
<text x="1872" y="1510" class="pn" textLength="429" lengthAdjust="spacingAndGlyphs">Рекомендуется консультация</text>
<text x="1872" y="1544" class="pn" textLength="200" lengthAdjust="spacingAndGlyphs">специалиста.</text>

<!-- ===== WAIST ===== -->
<text x="120" y="1683" font-size="67" fill="#2a5ca8" textLength="954" lengthAdjust="spacingAndGlyphs">ЕЩЕ ОДИН ВАЖНЫЙ КРИТЕРИЙ</text>
<rect x="1095" y="1662" width="61" height="6" fill="#2a5ca8"/>
<text x="1176" y="1683" font-size="67" font-weight="bold" fill="#e42228" textLength="460" lengthAdjust="spacingAndGlyphs">ОБХВАТ ТАЛИИ</text>

<text x="120" y="1784" font-size="39" font-weight="bold" fill="#e42228" textLength="278" lengthAdjust="spacingAndGlyphs">ОБХВАТ ТАЛИИ</text>
<text x="120" y="1905" font-size="39" font-weight="bold" fill="#e42228" textLength="278" lengthAdjust="spacingAndGlyphs">ОБХВАТ ТАЛИИ</text>
<g fill="#e42228">
<circle cx="440" cy="1731" r="7"/>
<path d="M432,1741 L448,1741 L452,1760 L461,1787 L419,1787 L428,1760 Z"/>
<path d="M430,1742 L421,1772 L425,1773 L433,1750 Z M450,1742 L459,1772 L455,1773 L447,1750 Z"/>
<rect x="432" y="1786" width="6" height="31" rx="2"/><rect x="442" y="1786" width="6" height="31" rx="2"/>
<circle cx="440" cy="1853" r="7"/>
<rect x="428" y="1863" width="24" height="38" rx="4"/>
<rect x="420" y="1865" width="6" height="30" rx="3"/><rect x="454" y="1865" width="6" height="30" rx="3"/>
<rect x="431" y="1896" width="8" height="41" rx="2"/><rect x="441" y="1896" width="8" height="41" rx="2"/>
</g>
<text x="483" y="1784" font-size="39" fill="#2a5ca8" textLength="139" lengthAdjust="spacingAndGlyphs">≥ 80 см</text>
<text x="483" y="1905" font-size="39" fill="#2a5ca8" textLength="139" lengthAdjust="spacingAndGlyphs">≥ 94 см</text>
<path d="M631,1729 L651,1729 L651,1826 L659,1833 L651,1840 L651,1937 L631,1937" fill="none" stroke="#e42228" stroke-width="3"/>
<text x="682" y="1784" font-size="37" font-weight="bold" fill="#2a5ca8" textLength="867" lengthAdjust="spacingAndGlyphs">УКАЗЫВАЕТ НА АБДОМИНАЛЬНОЕ ОЖИРЕНИЕ</text>
<text x="682" y="1886" font-size="37" font-weight="bold" fill="#2a5ca8" textLength="943" lengthAdjust="spacingAndGlyphs">ПОВЫШАЕТ РИСК РАЗВИТИЯ АССОЦИИРОВАННЫХ</text>
<text x="682" y="1932" font-size="37" font-weight="bold" fill="#2a5ca8" textLength="280" lengthAdjust="spacingAndGlyphs">ЗАБОЛЕВАНИЙ</text>

<!-- ===== HEADERS ===== -->
<rect x="118" y="2014" width="1115" height="151" fill="#e42228"/>
<rect x="1256" y="2014" width="1107" height="151" fill="#2461a9"/>
<g font-size="45" font-weight="bold" fill="#fff">
<text x="250" y="2081" textLength="866" lengthAdjust="spacingAndGlyphs">ЗАБОЛЕВАНИЯ, АССОЦИИРОВАННЫЕ</text>
<text x="223" y="2133.5" textLength="918" lengthAdjust="spacingAndGlyphs">С ИЗБЫТОЧНЫМ ВЕСОМ И ОЖИРЕНИЕМ</text>
<text x="1432" y="2100" textLength="762" lengthAdjust="spacingAndGlyphs">МОТИВАЦИЯ К СНИЖЕНИЮ ВЕСА</text>
</g>

<!-- ===== LEFT RED BLOCK ===== -->
<rect x="118" y="2190" width="154" height="692" fill="#e42228"/>
<g font-size="48" font-weight="bold" fill="#fff" text-anchor="middle">
<text transform="translate(181,2537) rotate(-90)" textLength="221" lengthAdjust="spacingAndGlyphs">ОЖИРЕНИЕ</text>
<text transform="translate(249,2528) rotate(-90)" textLength="416" lengthAdjust="spacingAndGlyphs">И ИЗБЫТОЧНЫЙ ВЕС</text>
</g>
<text transform="translate(313,2531) rotate(-90)" text-anchor="middle" font-size="30" fill="#e42228" textLength="680" lengthAdjust="spacingAndGlyphs">увеличивают вероятность возникновения</text>

<g fill="#e42228">
<polygon points="331,2289 393,2289 393,2272 430,2300 393,2328 393,2311 331,2311"/>
<polygon points="331,2527 393,2527 393,2510 430,2538 393,2566 393,2549 331,2549"/>
<polygon points="331,2760 393,2760 393,2743 430,2771 393,2799 393,2782 331,2782"/>
</g>
<g fill="none" stroke="#e42228" stroke-width="4">
<rect x="450" y="2197" width="781" height="210"/>
<rect x="450" y="2434" width="781" height="208"/>
<rect x="450" y="2669" width="781" height="209"/>
<circle cx="539" cy="2302" r="67"/>
<circle cx="539" cy="2538" r="67"/>
<circle cx="539" cy="2773" r="67"/>
</g>
<!-- heart -->
<path d="M540,2290 C530,2268 500,2272 502,2296 C504,2315 530,2326 540,2337 C550,2326 576,2315 578,2296 C580,2272 550,2268 540,2290 Z" fill="#e42228"/>
<polyline points="498,2308 522,2308 528,2298 535,2320 542,2290 548,2314 553,2308 582,2308" fill="none" stroke="#fff" stroke-width="3"/>
<polyline points="498,2308 504,2308 M576,2308 582,2308" fill="none" stroke="#e42228" stroke-width="3"/>
<!-- syringe -->
<g transform="rotate(45 539 2540)" fill="none" stroke="#e42228" stroke-width="4">
<rect x="526" y="2510" width="26" height="52" fill="#fff"/>
<line x1="520" y1="2510" x2="558" y2="2510"/>
<line x1="539" y1="2510" x2="539" y2="2492"/>
<line x1="528" y1="2492" x2="550" y2="2492"/>
<line x1="539" y1="2562" x2="539" y2="2588" stroke-width="3"/>
<line x1="532" y1="2525" x2="544" y2="2525" stroke-width="3"/>
<line x1="532" y1="2537" x2="544" y2="2537" stroke-width="3"/>
<line x1="532" y1="2549" x2="544" y2="2549" stroke-width="3"/>
</g>
<!-- eye -->
<path d="M497,2775 C515,2748 565,2748 582,2775 C565,2800 515,2800 497,2775 Z" fill="none" stroke="#e42228" stroke-width="4"/>
<circle cx="540" cy="2774" r="16" fill="#e42228"/>
<circle cx="545" cy="2770" r="5" fill="#fff"/>
<path d="M548,2752 L552,2744 M556,2754 L562,2747 M563,2758 L570,2752 M569,2763 L577,2759" stroke="#e42228" stroke-width="3"/>

<g class="rb">
<circle cx="634" cy="2254" r="5" fill="#e42228"/>
<text x="651.5" y="2265.5" textLength="339.5" lengthAdjust="spacingAndGlyphs">ИНФАРКТ И ИНСУЛЬТ</text>
<circle cx="634" cy="2306" r="5" fill="#e42228"/>
<text x="651.5" y="2317" textLength="559.5" lengthAdjust="spacingAndGlyphs">ИШЕМИЧЕСКАЯ БОЛЕЗНЬ СЕРДЦА</text>
<circle cx="634" cy="2358" r="5" fill="#e42228"/>
<text x="651.5" y="2369" textLength="470.5" lengthAdjust="spacingAndGlyphs">АРТЕРИАЛЬНАЯ ГИПЕРТОНИЯ</text>
<circle cx="634" cy="2516" r="5" fill="#e42228"/>
<text x="651.5" y="2527" textLength="497.5" lengthAdjust="spacingAndGlyphs">САХАРНЫЙ ДИАБЕТ 2-ГО ТИПА</text>
<circle cx="634" cy="2567" r="5" fill="#e42228"/>
<text x="651.5" y="2578" textLength="207.5" lengthAdjust="spacingAndGlyphs">БЕСПЛОДИЕ</text>
<circle cx="634" cy="2780" r="5" fill="#e42228"/>
<text x="651.5" y="2791" textLength="207.5" lengthAdjust="spacingAndGlyphs">ДЕПРЕССИИ</text>
</g>

<!-- ===== RIGHT BLUE BLOCK ===== -->
<g fill="none" stroke="#2461a9" stroke-width="4">
<rect x="1260" y="2197" width="778" height="210"/>
<rect x="1260" y="2434" width="778" height="208"/>
<rect x="1260" y="2669" width="778" height="209"/>
<circle cx="1940" cy="2302" r="67"/>
<circle cx="1940" cy="2536" r="67"/>
<circle cx="1940" cy="2773" r="67"/>
</g>
<text x="1886" y="2300" font-size="27" fill="#2a5ca8" textLength="108" lengthAdjust="spacingAndGlyphs">КАЖДЫЕ</text>
<text x="1908" y="2329" font-size="30" font-weight="bold" fill="#2a5ca8" textLength="63" lengthAdjust="spacingAndGlyphs">3 кг</text>
<text x="1894" y="2550" font-size="35" font-weight="bold" fill="#2a5ca8" textLength="90" lengthAdjust="spacingAndGlyphs">6-7 кг</text>
<text x="1880.5" y="2790" font-size="35" font-weight="bold" fill="#2a5ca8" textLength="118.5" lengthAdjust="spacingAndGlyphs">10-15 кг</text>

<g class="bb">
<text x="1303" y="2280" textLength="517" lengthAdjust="spacingAndGlyphs">ОДЕЖДА НА 1 РАЗМЕР МЕНЬШЕ</text>
<circle cx="1839" cy="2269" r="5" fill="#2a5ca8"/>
<text x="1386" y="2331.5" textLength="434" lengthAdjust="spacingAndGlyphs">ЖИЗНЬ НА 1 ГОД ДОЛЬШЕ</text>
<circle cx="1839" cy="2320" r="5" fill="#2a5ca8"/>
<text x="1597" y="2495" textLength="223" lengthAdjust="spacingAndGlyphs">УМЕНЬШЕНИЕ</text>
<circle cx="1839" cy="2484" r="5" fill="#2a5ca8"/>
<text x="1430" y="2547" textLength="390" lengthAdjust="spacingAndGlyphs">ВЫРАЖЕННОСТИ ХРАПА</text>
<text x="1369" y="2598.5" textLength="451" lengthAdjust="spacingAndGlyphs">УЛУЧШЕНИЕ КАЧЕСТВА СНА</text>
<circle cx="1839" cy="2587" r="5" fill="#2a5ca8"/>
<text x="1358" y="2739" textLength="462" lengthAdjust="spacingAndGlyphs">УМЕНЬШЕНИЕ ПРЕЖИВАНИЙ</text>
<circle cx="1839" cy="2728" r="5" fill="#2a5ca8"/>
<text x="1382.5" y="2791" textLength="437.5" lengthAdjust="spacingAndGlyphs">ПОВЫШЕНИЕ АКТИВНОСТИ</text>
<circle cx="1839" cy="2780" r="5" fill="#2a5ca8"/>
<text x="1369" y="2842.5" textLength="451" lengthAdjust="spacingAndGlyphs">И ОБЩЕГО БЛАГОПОЛУЧИЯ</text>
</g>

<g fill="#2461a9">
<polygon points="2154,2287 2095,2287 2095,2270 2055,2298 2095,2326 2095,2309 2154,2309"/>
<polygon points="2154,2520 2095,2520 2095,2503 2055,2531 2095,2559 2095,2542 2154,2542"/>
<polygon points="2154,2758 2095,2758 2095,2741 2055,2769 2095,2797 2095,2780 2154,2780"/>
</g>
<text transform="translate(2172,2534.5) rotate(90)" text-anchor="middle" font-size="30" fill="#2a5ca8" textLength="277" lengthAdjust="spacingAndGlyphs">снижение веса на</text>
<rect x="2209" y="2190" width="153" height="692" fill="#2461a9"/>
<g font-size="47" font-weight="bold" fill="#fff" text-anchor="middle">
<text transform="translate(2304,2538.5) rotate(90)" textLength="419" lengthAdjust="spacingAndGlyphs">ЛЕЧЕНИЕ ОЖИРЕНИЯ</text>
<text transform="translate(2243,2549.5) rotate(90)" textLength="465" lengthAdjust="spacingAndGlyphs">И ИЗБЫТОЧНОГО ВЕСА</text>
</g>

<!-- ===== BOTTOM BOXES ===== -->
<rect x="119" y="2912" width="1113" height="152" fill="#e42228"/>
<rect x="1256" y="2912" width="1107" height="152" fill="#2461a9"/>
<g font-size="36" fill="#fff">
<text x="151" y="2952" textLength="1052" lengthAdjust="spacingAndGlyphs"><tspan font-weight="bold">Снижение продолжительности жизни</tspan> с избыточной</text>
<text x="200" y="2998" textLength="959" lengthAdjust="spacingAndGlyphs">массой тела в среднем составляет <tspan font-weight="bold">от 3 до 5 лет,</tspan></text>
<text x="258" y="3045" textLength="839" lengthAdjust="spacingAndGlyphs">при выраженном избытке веса – <tspan font-weight="bold">до 15 лет</tspan></text>
<text x="1285" y="2952" textLength="1052" lengthAdjust="spacingAndGlyphs"><tspan font-weight="bold">Избавление от ожирения</tspan> ведет к уменьшению риска</text>
<text x="1303" y="2998" textLength="1015" lengthAdjust="spacingAndGlyphs">развития сердечной недостаточности, ишемической</text>
<text x="1398" y="3045" textLength="826" lengthAdjust="spacingAndGlyphs">болезни сердца, сахарного диабета 2 типа</text>
</g>

<!-- ===== SLOGAN ===== -->
<g font-weight="bold" font-size="94">
<text x="474" y="3262" textLength="1557" lengthAdjust="spacingAndGlyphs" fill="#9a9a9a" filter="url(#sh)">ВАШЕ ЗДОРОВЬЕ — В ВАШИХ РУКАХ!</text>
<text x="467" y="3238" textLength="1557" lengthAdjust="spacingAndGlyphs" fill="#fff" stroke="#fff" stroke-width="10" stroke-linejoin="round">ВАШЕ ЗДОРОВЬЕ — В ВАШИХ РУКАХ!</text>
<text x="467" y="3238" textLength="1557" lengthAdjust="spacingAndGlyphs" fill="#e31e24" stroke="#e31e24" stroke-width="2" stroke-linejoin="round">ВАШЕ ЗДОРОВЬЕ — В ВАШИХ РУКАХ!</text>
</g>

<!-- ===== LOGO ===== -->
<ellipse cx="245" cy="3313" rx="126" ry="76" fill="#fff"/>
<path d="M190,3262 C135,3290 140,3362 215,3379 C280,3392 320,3362 332,3330 C300,3370 222,3370 192,3342 C166,3316 170,3282 190,3262 Z" fill="#2a6cc0"/>
<path d="M205,3270 C170,3290 175,3340 210,3352 C185,3335 182,3295 205,3270 Z" fill="#7fb0e6"/>
<text x="160" y="3262" font-size="12" font-style="italic" fill="#e42228" textLength="170" lengthAdjust="spacingAndGlyphs" transform="rotate(-8 245 3262)">Хотим быть здоровыми – будем ими!</text>
<rect x="297" y="3290" width="22" height="63" fill="#f07f22"/>
<rect x="277" y="3311" width="63" height="22" fill="#f07f22"/>
<g font-size="11" font-family="'Liberation Serif',serif" font-style="italic" fill="#333">
<text x="196" y="3296">ГБУЗ "Волгоградский</text>
<text x="196" y="3310">областной центр</text>
<text x="196" y="3324">медицинской</text>
<text x="196" y="3338">профилактики",</text>
<text x="206" y="3352">Волгоград</text>
</g>

<!-- ===== QR ===== -->
<rect x="2238" y="3262" width="124" height="126" fill="#fff"/>
<rect x="2243" y="3267" width="114" height="116" fill="url(#qr)"/>
<g fill="none" stroke="#111" stroke-width="5">
<rect x="2245.5" y="3269.5" width="28" height="28" fill="#fff"/>
<rect x="2326.5" y="3269.5" width="28" height="28" fill="#fff"/>
<rect x="2245.5" y="3352.5" width="28" height="28" fill="#fff"/>
</g>
<rect x="2254" y="3278" width="11" height="11" fill="#111"/>
<rect x="2335" y="3278" width="11" height="11" fill="#111"/>
<rect x="2254" y="3361" width="11" height="11" fill="#111"/>

<!-- ===== FOOTER ===== -->
<text x="934" y="3384" font-size="23" font-style="italic" fill="#333" textLength="614" lengthAdjust="spacingAndGlyphs">Информация взята с сайта www.СтройнаяРоссия.рф</text>
</svg>
</body>
</html>
